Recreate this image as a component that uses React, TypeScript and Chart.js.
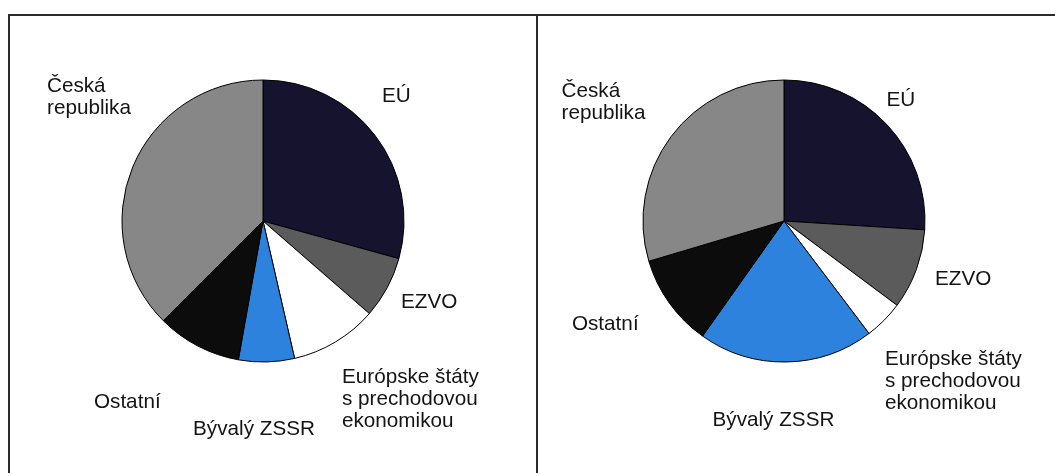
import React, { useEffect, useRef } from "react";
import { Chart, registerables } from "chart.js";

Chart.register(...registerables);

// ---- data ----
const categories = [
  "EÚ",
  "EZVO",
  "Európske štáty s prechodovou ekonomikou",
  "Bývalý ZSSR",
  "Ostatní",
  "Česká republika",
];
const labelLines = [
  ["EÚ"],
  ["EZVO"],
  ["Európske štáty", "s prechodovou", "ekonomikou"],
  ["Bývalý ZSSR"],
  ["Ostatní"],
  ["Česká", "republika"],
];
const leftValues = [29.3, 7.1, 10.0, 6.4, 9.7, 37.5];
const rightValues = [26.0, 9.2, 4.5, 20.1, 10.6, 29.6];

// ---- styles ----
const sliceColors = ["#16132e", "#5b5b5b", "#ffffff", "#2d82de", "#0c0c0c", "#878787"];
const FONT = "20.7px 'Liberation Sans', Arial, sans-serif";
const LINE_H = 22;

// label block placement: [left x, block centre y] as fractions of the radius, relative to pie centre
const leftLabelLayout = [
  [0.844, -0.887],
  [0.979, 0.574],
  [0.56, 1.262],
  [-0.496, 1.475],
  [-1.199, 1.284],
  [-1.532, -0.879],
];
const rightLabelLayout = [
  [0.727, -0.858],
  [1.071, 0.411],
  [0.716, 1.138],
  [-0.507, 1.411],
  [-1.504, 0.73],
  [-1.578, -0.844],
];

function makeLabelPlugin(layout: number[][]) {
  return {
    id: "sliceLabels",
    afterDraw(chart: any) {
      const meta = chart.getDatasetMeta(0);
      if (!meta || !meta.data.length) return;
      const arc = meta.data[0];
      const { x, y, outerRadius } = arc.getProps(["x", "y", "outerRadius"], true);
      const ctx = chart.ctx;
      ctx.save();
      ctx.font = FONT;
      ctx.fillStyle = "#141414";
      ctx.textAlign = "left";
      ctx.textBaseline = "middle";
      labelLines.forEach((lines, i) => {
        const lx = x + layout[i][0] * outerRadius;
        const cy = y + layout[i][1] * outerRadius;
        lines.forEach((t, j) => {
          const ly = cy + (j - (lines.length - 1) / 2) * LINE_H;
          ctx.fillText(t, lx, ly);
        });
      });
      ctx.restore();
    },
  };
}

function PieBox(props: {
  values: number[];
  layout: number[][];
  left: number;
  width: number;
  padL: number;
}) {
  const ref = useRef<HTMLCanvasElement>(null);
  useEffect(() => {
    if (!ref.current) return;
    const chart = new Chart(ref.current, {
      type: "pie",
      data: {
        labels: categories,
        datasets: [
          {
            data: props.values,
            backgroundColor: sliceColors,
            borderColor: "#000000",
            borderWidth: 1,
            hoverOffset: 0,
            offset: 0,
          },
        ],
      },
      options: {
        responsive: false,
        animation: false,
        radius: 141,
        layout: {
          padding: { left: props.padL, right: props.width - props.padL - 300, top: 55, bottom: 105 },
        },
        plugins: {
          legend: { display: false },
          tooltip: { enabled: false },
          title: { display: false },
        },
      } as any,
      plugins: [makeLabelPlugin(props.layout)],
    });
    return () => chart.destroy();
  }, []);
  return (
    <canvas
      ref={ref}
      width={props.width}
      height={460}
      style={{ position: "absolute", left: props.left, top: 16, width: props.width, height: 460 }}
    />
  );
}

export default function App() {
  const line = "#2a2a2a";
  return (
    <div style={{ position: "absolute", left: 0, top: 0, width: 1055, height: 476, background: "#fff", overflow: "hidden" }}>
      <div style={{ position: "absolute", left: 8, top: 14, width: 1047, height: 2, background: line }} />
      <div style={{ position: "absolute", left: 8, top: 14, width: 2, height: 459, background: line }} />
      <div style={{ position: "absolute", left: 536, top: 14, width: 2, height: 459, background: line }} />
      <PieBox values={leftValues} layout={leftLabelLayout} left={10} width={526} padL={103} />
      <PieBox values={rightValues} layout={rightLabelLayout} left={538} width={517} padL={96} />
    </div>
  );
}
